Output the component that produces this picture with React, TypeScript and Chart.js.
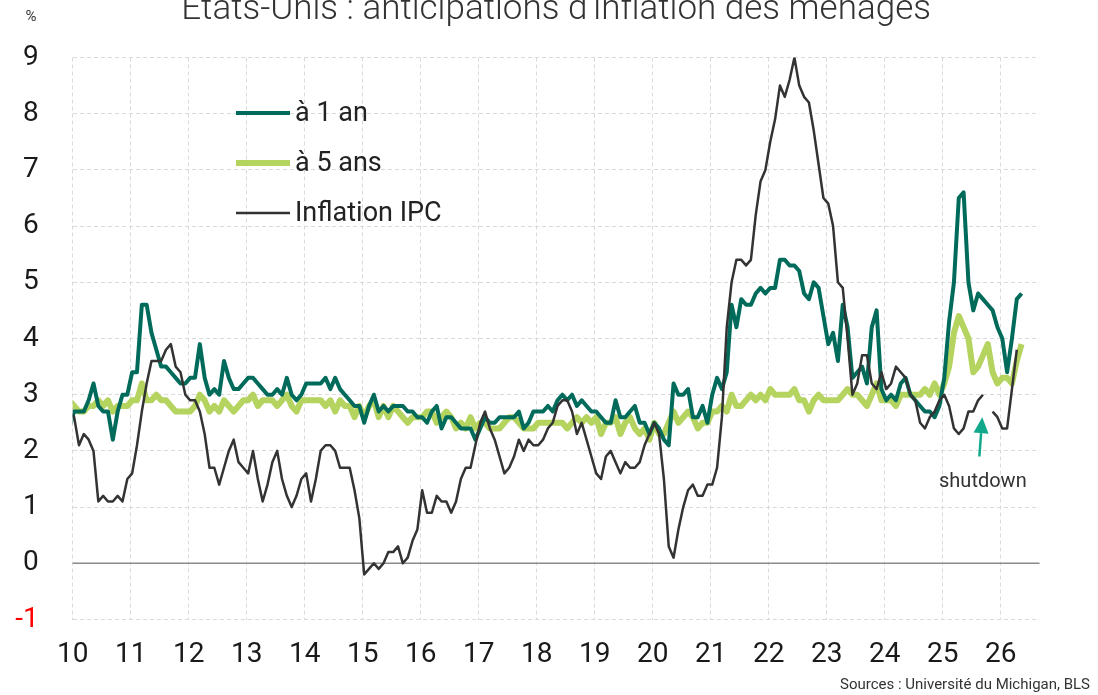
import React, { useEffect, useRef } from "react";
import { Chart, registerables } from "chart.js";

Chart.register(...registerables);

// First observation: December 2009 (monthly data)
const START_YEAR = 2009;
const START_MONTH = 11; // 0-based, December

const yearTicks = [2010, 2011, 2012, 2013, 2014, 2015, 2016, 2017, 2018, 2019, 2020, 2021, 2022, 2023, 2024, 2025, 2026];

const seriesLabels = ["à 1 an", "à 5 ans", "Inflation IPC"];

// Michigan, 1-year-ahead inflation expectations (%)
const oneYear = [
  2.4,
  2.7, 2.7, 2.7, 2.9, 3.2, 2.8, 2.7, 2.7, 2.2, 2.7, 3.0, 3.0,
  3.4, 3.4, 4.6, 4.6, 4.1, 3.8, 3.5, 3.5, 3.4, 3.3, 3.2, 3.2,
  3.3, 3.3, 3.9, 3.3, 3.0, 3.1, 3.0, 3.6, 3.3, 3.1, 3.1, 3.2,
  3.3, 3.3, 3.2, 3.1, 3.0, 3.0, 3.1, 3.0, 3.3, 3.0, 2.9, 3.0,
  3.2, 3.2, 3.2, 3.2, 3.3, 3.1, 3.3, 3.1, 3.0, 2.9, 2.8, 2.8,
  2.5, 2.8, 3.0, 2.7, 2.8, 2.7, 2.8, 2.8, 2.8, 2.7, 2.7, 2.6,
  2.6, 2.5, 2.7, 2.8, 2.4, 2.6, 2.6, 2.5, 2.4, 2.4, 2.4, 2.2,
  2.4, 2.6, 2.5, 2.5, 2.6, 2.6, 2.6, 2.6, 2.7, 2.4, 2.5, 2.7,
  2.7, 2.7, 2.8, 2.7, 2.9, 3.0, 2.9, 3.0, 2.8, 2.9, 2.8, 2.7,
  2.7, 2.6, 2.5, 2.5, 2.9, 2.6, 2.6, 2.7, 2.8, 2.5, 2.5, 2.3,
  2.5, 2.4, 2.2, 2.1, 3.2, 3.0, 3.0, 3.1, 2.6, 2.6, 2.8, 2.5,
  3.0, 3.3, 3.1, 3.4, 4.6, 4.2, 4.7, 4.6, 4.6, 4.8, 4.9, 4.8,
  4.9, 4.9, 5.4, 5.4, 5.3, 5.3, 5.2, 4.8, 4.7, 5.0, 4.9, 4.4,
  3.9, 4.1, 3.6, 4.6, 4.2, 3.3, 3.4, 3.5, 3.2, 4.2, 4.5, 3.1,
  2.9, 3.0, 2.9, 3.2, 3.3, 3.0, 2.9, 2.8, 2.7, 2.7, 2.6, 2.8,
  3.3, 4.3, 5.0, 6.5, 6.6, 5.0, 4.5, 4.8, 4.7, 4.6, 4.5, 4.2,
  4.0, 3.4, 4.0, 4.7, 4.8,
];

// Michigan, 5-year-ahead inflation expectations (%)
const fiveYear = [
  2.9,
  2.8, 2.7, 2.7, 2.8, 2.8, 2.9, 2.8, 2.9, 2.7, 2.8, 2.8, 2.8,
  2.9, 2.9, 3.2, 2.9, 2.9, 3.0, 2.9, 2.9, 2.8, 2.7, 2.7, 2.7,
  2.7, 2.8, 3.0, 2.9, 2.7, 2.8, 2.7, 2.9, 2.8, 2.7, 2.8, 2.9,
  2.9, 3.0, 2.8, 2.9, 2.9, 2.9, 2.8, 2.9, 3.0, 2.8, 2.7, 2.9,
  2.9, 2.9, 2.9, 2.9, 2.8, 2.9, 2.7, 2.9, 2.8, 2.8, 2.6, 2.8,
  2.6, 2.8, 2.9, 2.6, 2.8, 2.6, 2.8, 2.7, 2.6, 2.5, 2.6, 2.6,
  2.6, 2.7, 2.7, 2.5, 2.6, 2.7, 2.6, 2.4, 2.5, 2.4, 2.6, 2.4,
  2.5, 2.5, 2.4, 2.4, 2.4, 2.5, 2.6, 2.6, 2.5, 2.4, 2.4, 2.4,
  2.5, 2.5, 2.5, 2.5, 2.5, 2.5, 2.4, 2.5, 2.6, 2.5, 2.6, 2.5,
  2.6, 2.3, 2.5, 2.5, 2.6, 2.3, 2.5, 2.6, 2.4, 2.3, 2.4, 2.2,
  2.5, 2.3, 2.3, 2.5, 2.7, 2.5, 2.6, 2.7, 2.6, 2.4, 2.5, 2.5,
  2.7, 2.7, 2.8, 2.7, 3.0, 2.8, 2.8, 2.9, 3.0, 2.9, 3.0, 2.9,
  3.1, 3.0, 3.0, 3.0, 3.0, 3.1, 2.9, 2.9, 2.7, 2.9, 3.0, 2.9,
  2.9, 2.9, 2.9, 3.0, 3.1, 3.0, 3.0, 2.9, 2.8, 3.0, 3.2, 2.9,
  2.9, 2.9, 2.8, 3.0, 3.0, 3.0, 3.0, 3.0, 3.1, 3.0, 3.2, 3.0,
  3.2, 3.5, 4.1, 4.4, 4.2, 4.0, 3.4, 3.5, 3.7, 3.9, 3.4, 3.2,
  3.3, 3.3, 3.2, 3.6, 3.9,
];

// CPI inflation, year on year (%); null = no release (shutdown)
const cpi = [
  2.7,
  2.6, 2.1, 2.3, 2.2, 2.0, 1.1, 1.2, 1.1, 1.1, 1.2, 1.1, 1.5,
  1.6, 2.1, 2.7, 3.2, 3.6, 3.6, 3.6, 3.8, 3.9, 3.5, 3.4, 3.0,
  2.9, 2.9, 2.7, 2.3, 1.7, 1.7, 1.4, 1.7, 2.0, 2.2, 1.8, 1.7,
  1.6, 2.0, 1.5, 1.1, 1.4, 1.8, 2.0, 1.5, 1.2, 1.0, 1.2, 1.5,
  1.6, 1.1, 1.5, 2.0, 2.1, 2.1, 2.0, 1.7, 1.7, 1.7, 1.3, 0.8,
  -0.2, -0.1, 0.0, -0.1, 0.0, 0.2, 0.2, 0.3, 0.0, 0.1, 0.4, 0.6,
  1.3, 0.9, 0.9, 1.2, 1.1, 1.1, 0.9, 1.1, 1.5, 1.7, 1.7, 2.1,
  2.5, 2.7, 2.4, 2.2, 1.9, 1.6, 1.7, 1.9, 2.2, 2.0, 2.2, 2.1,
  2.1, 2.2, 2.4, 2.5, 2.8, 2.9, 2.9, 2.7, 2.3, 2.5, 2.2, 1.9,
  1.6, 1.5, 1.9, 2.0, 1.8, 1.6, 1.8, 1.7, 1.7, 1.8, 2.1, 2.3,
  2.5, 2.3, 1.5, 0.3, 0.1, 0.6, 1.0, 1.3, 1.4, 1.2, 1.2, 1.4,
  1.4, 1.7, 2.6, 4.2, 5.0, 5.4, 5.4, 5.3, 5.4, 6.2, 6.8, 7.0,
  7.5, 7.9, 8.5, 8.3, 8.6, 9.0, 8.5, 8.3, 8.2, 7.7, 7.1, 6.5,
  6.4, 6.0, 5.0, 4.9, 4.0, 3.0, 3.2, 3.7, 3.7, 3.2, 3.1, 3.4,
  3.1, 3.2, 3.5, 3.4, 3.3, 3.0, 2.9, 2.5, 2.4, 2.6, 2.7, 2.9,
  3.0, 2.8, 2.4, 2.3, 2.4, 2.7, 2.7, 2.9, 3.0, null, 2.7, 2.6,
  2.4, 2.4, 3.1, 3.8,
];

const COLOR_1Y = "#006b5b";
const COLOR_5Y = "#b5d35f";
const COLOR_CPI = "#333333";
const COLOR_ARROW = "#12a88b";

const toPoints = (arr: (number | null)[]) =>
  arr.map((v, i) => ({ x: START_YEAR + (START_MONTH + i + 0.3) / 12, y: v }));

const overlayPlugin = {
  id: "overlay",
  beforeDatasetsDraw(chart: any) {
    const { ctx, chartArea, scales } = chart;
    const y0 = scales.y.getPixelForValue(0);
    ctx.save();
    ctx.strokeStyle = "#8a8a8a";
    ctx.lineWidth = 1.5;
    ctx.beginPath();
    ctx.moveTo(chartArea.left, y0);
    ctx.lineTo(chartArea.right, y0);
    ctx.stroke();
    ctx.restore();
  },
  afterDraw(chart: any) {
    const { ctx, chartArea, scales } = chart;
    ctx.save();
    // title (partly cut at the top of the picture)
    ctx.fillStyle = "#333";
    ctx.font = "300 35px Roboto";
    ctx.textAlign = "center";
    ctx.textBaseline = "alphabetic";
    ctx.fillText("États-Unis : anticipations d'inflation des ménages", (chartArea.left + chartArea.right) / 2, 19);
    // unit
    ctx.font = "15px Roboto";
    ctx.fillText("%", 31, 21);

    // legend
    const colors = [COLOR_1Y, COLOR_5Y, COLOR_CPI];
    const widths = [4, 6, 2.5];
    const rowY = [113, 163, 213];
    ctx.textAlign = "left";
    ctx.font = "27px Roboto";
    seriesLabels.forEach((lab, i) => {
      ctx.strokeStyle = colors[i];
      ctx.lineWidth = widths[i];
      ctx.lineCap = "butt";
      ctx.beginPath();
      ctx.moveTo(236, rowY[i]);
      ctx.lineTo(290, rowY[i]);
      ctx.stroke();
      ctx.fillStyle = "#222";
      ctx.fillText(lab, 295, rowY[i] + 8);
    });

    // shutdown arrow
    const tx = scales.x.getPixelForValue(2025.63);
    const ty = scales.y.getPixelForValue(1.9);
    const hx = scales.x.getPixelForValue(2025.68);
    const hy = scales.y.getPixelForValue(2.6);
    const ang = Math.atan2(hy - ty, hx - tx);
    const headLen = 16;
    const headW = 7.5;
    const bx = hx - headLen * Math.cos(ang);
    const by = hy - headLen * Math.sin(ang);
    ctx.strokeStyle = COLOR_ARROW;
    ctx.fillStyle = COLOR_ARROW;
    ctx.lineWidth = 2.5;
    ctx.beginPath();
    ctx.moveTo(tx, ty);
    ctx.lineTo(bx, by);
    ctx.stroke();
    ctx.beginPath();
    ctx.moveTo(hx, hy);
    ctx.lineTo(bx + headW * Math.sin(ang), by - headW * Math.cos(ang));
    ctx.lineTo(bx - headW * Math.sin(ang), by + headW * Math.cos(ang));
    ctx.closePath();
    ctx.fill();

    ctx.fillStyle = "#333";
    ctx.font = "20px Roboto";
    ctx.textAlign = "center";
    ctx.fillText("shutdown", scales.x.getPixelForValue(2025.69), scales.y.getPixelForValue(1.36));

    // source
    ctx.font = "15px Roboto";
    ctx.textAlign = "right";
    ctx.fillText("Sources : Université du Michigan, BLS", 1090, 689);
    ctx.restore();
  },
};

export default function App() {
  const ref = useRef<HTMLCanvasElement | null>(null);

  useEffect(() => {
    if (!ref.current) return;
    const tickFont = { family: "Roboto", size: 28 };
    const chart = new Chart(ref.current, {
      type: "line",
      data: {
        datasets: [
          {
            label: seriesLabels[2],
            data: toPoints(cpi),
            borderColor: COLOR_CPI,
            borderWidth: 2.5,
            order: 1,
            spanGaps: false,
            clip: 0,
          },
          {
            label: seriesLabels[0],
            data: toPoints(oneYear),
            borderColor: COLOR_1Y,
            borderWidth: 4,
            order: 2,
            clip: 0,
          },
          {
            label: seriesLabels[1],
            data: toPoints(fiveYear),
            borderColor: COLOR_5Y,
            borderWidth: 6,
            order: 3,
            clip: 0,
          },
        ],
      },
      options: {
        responsive: false,
        animation: false,
        devicePixelRatio: 1,
        layout: { padding: { top: 57.5, right: 58.5, bottom: 0, left: 0 } },
        elements: {
          point: { radius: 0, hoverRadius: 0 },
          line: { tension: 0, borderJoinStyle: "round", borderCapStyle: "butt", fill: false },
        },
        plugins: {
          legend: { display: false },
          tooltip: { enabled: false },
          title: { display: false },
        },
        scales: {
          x: {
            type: "linear",
            min: 2010,
            max: 2026 + 8 / 12,
            afterBuildTicks: (s: any) => {
              s.ticks = yearTicks.map((v) => ({ value: v }));
            },
            afterFit: (s: any) => {
              s.height = 75.5;
            },
            grid: { color: "#dadada", lineWidth: 1, drawTicks: false },
            border: { display: false, dash: [4, 3] },
            ticks: {
              padding: 19,
              font: tickFont,
              color: "#1a1a1a",
              maxRotation: 0,
              autoSkip: false,
              callback: (v: any) => String(Number(v) - 2000),
            },
          },
          y: {
            min: -1,
            max: 9,
            afterFit: (s: any) => {
              s.width = 72.7;
            },
            grid: { color: "#dadada", lineWidth: 1, drawTicks: false },
            border: { display: false, dash: [4, 3] },
            ticks: {
              stepSize: 1,
              padding: 34,
              font: tickFont,
              color: (c: any) => (c.tick && c.tick.value < 0 ? "#ff0000" : "#1a1a1a"),
              callback: (v: any) => String(v),
            },
          },
        },
      },
      plugins: [overlayPlugin],
    });
    return () => chart.destroy();
  }, []);

  return (
    <div style={{ position: "fixed", left: 0, top: 0, width: 1098, height: 695, background: "#fff" }}>
      <canvas ref={ref} width={1098} height={695} style={{ display: "block", width: 1098, height: 695 }} />
    </div>
  );
}
